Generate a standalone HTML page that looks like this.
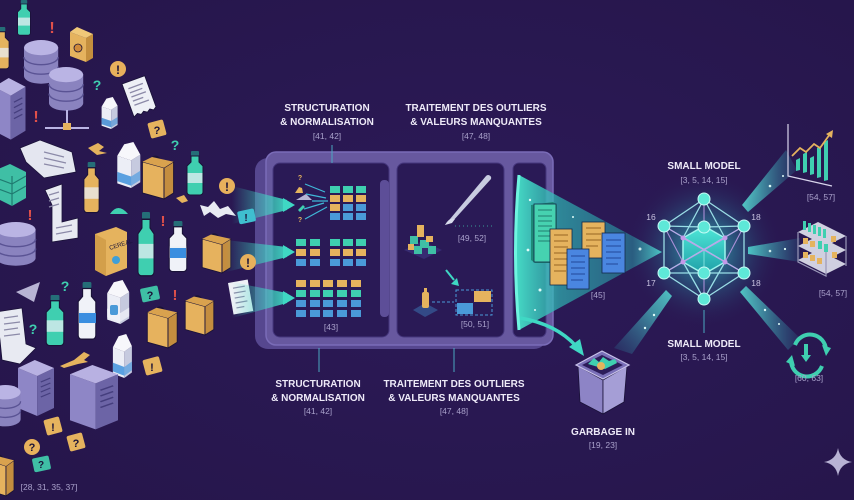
<!DOCTYPE html>
<html><head><meta charset="utf-8">
<style>
html,body{margin:0;padding:0;background:#29184f;}
body{width:854px;height:500px;overflow:hidden;}
svg{display:block;}
.t{font-family:"Liberation Sans",sans-serif;font-weight:bold;fill:#eeeaf8;font-size:10px;text-anchor:middle;}
.r{font-family:"Liberation Sans",sans-serif;fill:#aaa2cc;font-size:8.5px;text-anchor:middle;}
.q{font-family:"Liberation Sans",sans-serif;font-weight:bold;text-anchor:middle;}
</style></head><body>
<svg width="854" height="500" viewBox="0 0 854 500" xmlns="http://www.w3.org/2000/svg">
<defs>
<radialGradient id="bgg" cx="0.55" cy="0.5" r="0.7"><stop offset="0" stop-color="#2c1a58"/><stop offset="1" stop-color="#26164b"/></radialGradient>
<radialGradient id="glow" cx="0.5" cy="0.5" r="0.5"><stop offset="0" stop-color="#3ee0d0" stop-opacity=".75"/><stop offset=".45" stop-color="#2aa8b8" stop-opacity=".35"/><stop offset="1" stop-color="#2a1a56" stop-opacity="0"/></radialGradient>
<linearGradient id="funnel" x1="0" y1="0" x2="1" y2="0"><stop offset="0" stop-color="#48e6cc" stop-opacity=".95"/><stop offset=".3" stop-color="#2fb6b4" stop-opacity=".7"/><stop offset=".8" stop-color="#2a9aa8" stop-opacity=".55"/><stop offset="1" stop-color="#5ff0e0" stop-opacity=".9"/></linearGradient>
<linearGradient id="beamL" x1="0" y1="0" x2="1" y2="0"><stop offset="0" stop-color="#3fd8c4" stop-opacity="0"/><stop offset="1" stop-color="#3fd8c4" stop-opacity=".95"/></linearGradient>
<linearGradient id="beamR" x1="0" y1="0" x2="1" y2="0"><stop offset="0" stop-color="#5ff0e0" stop-opacity=".9"/><stop offset="1" stop-color="#2a8aa8" stop-opacity=".15"/></linearGradient>
<linearGradient id="beamD" x1="1" y1="0" x2="0" y2="1"><stop offset="0" stop-color="#5ff0e0" stop-opacity=".9"/><stop offset="1" stop-color="#2a8aa8" stop-opacity=".15"/></linearGradient>
<linearGradient id="cube" x1="0" y1="0" x2="0" y2="1"><stop offset="0" stop-color="#4fe8d8"/><stop offset="1" stop-color="#1f9fa8"/></linearGradient>

<g id="bottle"><rect x="6" y="0" width="8" height="5" rx="1" fill="#256e78"/><path d="M6 5h8v6l4 4v26a3 3 0 0 1-3 3H5a3 3 0 0 1-3-3V15l4-4z" fill="currentColor" stroke="#1a1238" stroke-width="1"/><rect x="2.5" y="22" width="15" height="10" fill="#e8eef4" opacity=".75"/></g>
<g id="carton"><polygon points="2,12 14,16 14,40 2,36" fill="#eceef6"/><polygon points="14,16 22,11 22,35 14,40" fill="#c6cadf"/><polygon points="2,12 8,2 16,0 22,11 14,16" fill="#f7f7fb"/><polygon points="2,26 14,30 14,38 2,34" fill="currentColor"/><polygon points="14,30 22,25 22,33 14,38" fill="currentColor" opacity=".75"/></g>
<g id="bag"><path d="M8 12 C8 2 18 2 18 13" fill="none" stroke="#1a1238" stroke-width="1.5"/><polygon points="2,9 20,14 20,40 2,35" fill="#e6b25e" stroke="#1a1238" stroke-width=".8"/><polygon points="20,14 28,9 28,35 20,40" fill="#c48d3f" stroke="#1a1238" stroke-width=".8"/><polygon points="2,9 10,5 28,9 20,14" fill="#d9a24e"/></g>
<g id="db"><rect x="0" y="8" width="36" height="30" fill="#8a83bf"/><ellipse cx="18" cy="38" rx="18" ry="8" fill="#8a83bf"/><path d="M0 18a18 8 0 0 0 36 0M0 28a18 8 0 0 0 36 0" fill="none" stroke="#5a5394" stroke-width="1.5"/><ellipse cx="18" cy="8" rx="18" ry="8" fill="#bab4e4"/></g>
<g id="server"><polygon points="0,8 16,16 16,56 0,48" fill="#8e86c6"/><polygon points="16,16 30,8 30,48 16,56" fill="#6c64a6"/><polygon points="0,8 14,0 30,8 16,16" fill="#b8b1e2"/><path d="M19 22l8-4M19 27l8-4M19 32l8-4M19 37l8-4" stroke="#453e7e" stroke-width="1.2"/></g>
<g id="rcpt"><path d="M0 0h22v30l-3 2-3-2-3 2-3-2-3 2-3-2-4 2z" fill="#eef0f6" stroke="#1a1238" stroke-width=".8"/><path d="M4 6h14M4 10h12M4 14h14M4 18h10M4 22h14" stroke="#8c8aa8" stroke-width="1.2"/></g>
</defs>

<rect width="854" height="500" fill="url(#bgg)"/>

<!-- ================= LEFT ICON CLOUD ================= -->
<use href="#bottle" transform="translate(16,0) scale(.8)" style="color:#3fcfb0"/>
<text x="52" y="33" class="q" font-size="16" fill="#e0504a">!</text>
<polygon points="70,32 86,38 86,62 70,56" fill="#e5b35e"/><polygon points="86,38 93,34 93,58 86,62" fill="#c48f3e"/><polygon points="70,32 77,27 93,34 86,38" fill="#f0c878"/><circle cx="78" cy="48" r="4" fill="#d08a3a" stroke="#1a1238" stroke-width=".8"/>
<use href="#bottle" transform="translate(-8,27) scale(.95)" style="color:#e5b35e"/>
<use href="#db" transform="translate(24,40) scale(.95)"/>
<use href="#db" transform="translate(49,67) scale(.95)"/>
<path d="M67 110v18M45 128h44" stroke="#bab4e4" stroke-width="2"/><rect x="63" y="123" width="8" height="7" fill="#e5b35e"/>
<use href="#server" transform="translate(-6,78) scale(1.05,1.1)"/>
<text x="97" y="90" class="q" font-size="14" fill="#3fcfb0">?</text>
<circle cx="118" cy="69" r="8" fill="#e7b05c"/><text x="118" y="74" class="q" font-size="12" fill="#1a1238">!</text>
<use href="#rcpt" transform="translate(122,84) rotate(-20) scale(1.1)"/>
<text x="36" y="122" class="q" font-size="16" fill="#e0504a">!</text>
<use href="#carton" transform="translate(100,97) scale(.8)" style="color:#5a9ad8"/>
<rect x="149" y="121" width="16" height="16" rx="2" fill="#e5b35e" transform="rotate(-15 157 129)"/><text x="157" y="134" class="q" font-size="11" fill="#1a1238">?</text>
<text x="175" y="150" class="q" font-size="14" fill="#3fcfb0">?</text>
<path d="M20 148 L40 140 L72 152 L76 172 L44 178 L26 162Z" fill="#e4e6f0" stroke="#1a1238" stroke-width=".8"/><path d="M44 152l20 5M44 158l22 5M44 164l20 4" stroke="#8c8aa8" stroke-width="1.2"/>
<path d="M88 148 l10-5 6 4 -5 4 8 2 -10 2z" fill="#e5b35e"/>
<use href="#carton" transform="translate(115,142) scale(1.15)" style="color:#5aa0e0"/>
<use href="#bag" transform="translate(140,151) scale(1.2)"/>
<use href="#bottle" transform="translate(185,151) scale(1.0)" style="color:#3fcfb0"/>
<polygon points="-4,170 10,164 26,172 26,198 12,206 -4,198" fill="#3fbfa5"/><path d="M12 176v30M-4 178l16 6 14-8M-4 188l16 6 14-8" stroke="#1f7a70" stroke-width="1.2" fill="none"/>
<use href="#bottle" transform="translate(82,162) scale(.95,1.15)" style="color:#e5b35e"/>
<path d="M45 190 L62 184 L62 222 L78 218 L78 238 L52 242 L52 205 Z" fill="#e8eaf2" stroke="#1a1238" stroke-width=".8"/><path d="M49 195l10-3M49 201l10-3M49 207l10-3M56 228l16-3M56 234l16-3" stroke="#8c8aa8" stroke-width="1.2"/>
<path d="M110 214 q8-12 18 0z" fill="#3fcfb0"/>
<text x="30" y="220" class="q" font-size="15" fill="#e0504a">!</text>
<text x="163" y="226" class="q" font-size="15" fill="#e0504a">!</text>
<use href="#db" transform="translate(-4,222) scale(1.1,.95)"/>
<polygon points="95,234 116,227 127,232 127,268 106,276 95,270" fill="#e5b35e"/><polygon points="95,234 106,240 106,276 95,270" fill="#d39f4a"/><text x="110" y="250" font-family="Liberation Sans" font-size="6" fill="#1a1238" transform="rotate(-18 110 250)">CEREAL</text><circle cx="116" cy="260" r="4" fill="#3f9fd8"/>
<use href="#bottle" transform="translate(136,212) scale(1.0,1.45)" style="color:#3fcfb0"/>
<use href="#bottle" transform="translate(167,221) scale(1.1,1.15)" style="color:#f0f2f8"/><rect x="170" y="248" width="16" height="10" fill="#3a8ee0"/>
<use href="#bag" transform="translate(200,229) scale(1.1)"/>
<circle cx="227" cy="186" r="8" fill="#e7b05c"/><text x="227" y="191" class="q" font-size="12" fill="#1a1238">!</text>
<path d="M200 205 l8 2 6-6 6 8 8-3 8 10 -10-2 -8 4 -8-6 -6 4z" fill="#e8eaf2"/>
<path d="M176 198 l8 -3 4 6 -6 2z" fill="#e5b35e"/>
<polygon points="16,292 40,282 34,302" fill="#b8b4d4"/>
<text x="65" y="291" class="q" font-size="14" fill="#3fcfb0">?</text>
<text x="33" y="334" class="q" font-size="14" fill="#3fcfb0">?</text>
<use href="#bottle" transform="translate(44,295) scale(1.1,1.15)" style="color:#3fcfb0"/>
<use href="#bottle" transform="translate(76,282) scale(1.1,1.3)" style="color:#f0f2f8"/><rect x="79" y="313" width="17" height="10" fill="#3a8ee0"/>
<use href="#carton" transform="translate(105,280) scale(1.1)" style="color:#f0f2f8"/><rect x="110" y="305" width="8" height="10" rx="2" fill="#4a9ad8"/>
<rect x="141" y="287" width="18" height="14" rx="2" fill="#3fbfa5" transform="rotate(-12 150 294)"/><text x="150" y="299" class="q" font-size="11" fill="#1a1238">?</text>
<text x="175" y="300" class="q" font-size="15" fill="#e0504a">!</text>
<use href="#bag" transform="translate(145,302) scale(1.15)"/>
<use href="#bag" transform="translate(183,291) scale(1.1)"/>
<g transform="translate(228,283) rotate(-10)"><rect x="0" y="0" width="20" height="32" fill="#eef0f6"/><path d="M4 6h12M4 11h12M4 16h10M4 21h12M4 26h8" stroke="#8c8aa8" stroke-width="1.2"/></g>
<path d="M-4 312 L22 308 L26 344 L36 348 L20 364 L2 360 L0 340Z" fill="#e8eaf2" stroke="#1a1238" stroke-width=".8"/><path d="M4 318l14-2M4 324l16-2M4 330l14-2M4 336l16-2" stroke="#8c8aa8" stroke-width="1.2"/>
<path d="M60 366 l14-6 10-8 6 3 -6 5 4 2 -10 2 -14 4z" fill="#e5b35e"/>
<use href="#carton" transform="translate(111,334) scale(.95,1.1)" style="color:#5aa0e0"/>
<rect x="144" y="358" width="17" height="16" rx="2" fill="#e5b35e" transform="rotate(-15 152 366)"/><text x="152" y="371" class="q" font-size="11" fill="#1a1238">!</text>
<use href="#server" transform="translate(18,360) scale(1.2,1.0)"/>
<use href="#server" transform="translate(70,365) scale(1.6,1.15)"/>
<use href="#db" transform="translate(-10,385) scale(.85,.9)"/>
<rect x="45" y="418" width="16" height="16" rx="2" fill="#e5b35e" transform="rotate(-15 53 426)"/><text x="53" y="431" class="q" font-size="11" fill="#1a1238">!</text>
<circle cx="32" cy="447" r="8" fill="#e7b05c"/><text x="32" y="451" class="q" font-size="11" fill="#1a1238">?</text>
<rect x="68" y="434" width="16" height="16" rx="2" fill="#e5b35e" transform="rotate(-15 76 442)"/><text x="76" y="447" class="q" font-size="11" fill="#1a1238">?</text>
<rect x="33" y="457" width="17" height="14" rx="2" fill="#3fbfa5" transform="rotate(-12 41 464)"/><text x="41" y="468" class="q" font-size="10" fill="#1a1238">?</text>
<use href="#bag" transform="translate(-14,450) scale(1.0,1.15)"/>
<text x="49" y="490" class="r">[28, 31, 35, 37]</text>

<!-- ================= PANEL ================= -->
<rect x="255" y="158" width="292" height="191" rx="13" fill="#56478f"/>
<rect x="266" y="152" width="287" height="193" rx="10" fill="#67589f" stroke="#7a6cb8" stroke-width="1.5"/>
<rect x="273" y="163" width="116" height="174" rx="7" fill="#2a1a56" stroke="#46377e"/>
<rect x="380" y="180" width="9" height="137" rx="4" fill="#5d4e98"/>
<rect x="397" y="163" width="107" height="174" rx="7" fill="#2a1a56" stroke="#46377e"/>
<rect x="513" y="163" width="33" height="174" rx="6" fill="#2a1a56" stroke="#46377e"/>

<!-- beams into panel (over frame) -->
<polygon points="232,186 287,200 287,210 232,224" fill="url(#beamL)"/>
<polygon points="226,240 287,247 287,257 226,272" fill="url(#beamL)"/>
<polygon points="232,282 287,293 287,303 232,318" fill="url(#beamL)"/>
<rect x="238" y="210" width="17" height="13" rx="2" fill="#3fbfcf" transform="rotate(-12 246 216)"/><text x="246" y="221" class="q" font-size="10" fill="#1a1238">!</text>
<circle cx="248" cy="262" r="8" fill="#e7b05c"/><text x="248" y="267" class="q" font-size="12" fill="#1a1238">!</text>

<!-- arrow heads -->
<polygon points="283,198 295,205 283,212" fill="#3fd8c4"/>
<polygon points="283,245 295,252 283,259" fill="#3fd8c4"/>
<polygon points="283,291 295,298 283,305" fill="#3fd8c4"/>

<!-- panel1 grid1 -->
<g>
<text x="300" y="180" class="q" font-size="7" fill="#e5b35e">?</text>
<path d="M295 193 l4-6 3 1 1 5z" fill="#e5b35e"/><polygon points="296,200 306,194 312,200" fill="#b8b4d4"/>
<path d="M298 210 l5-5 2 2-5 5z" fill="#3fcfb0"/>
<text x="300" y="222" class="q" font-size="7" fill="#e5b35e">?</text>
<path d="M305 184l20 8M306 194l20 4M312 201l16 0M304 209l20-6M305 219l22-12" stroke="#3fb8d8" stroke-width="1.2"/>
<g fill="#3fcfb0"><rect x="330" y="186" width="10" height="7"/><rect x="343" y="186" width="10" height="7"/><rect x="356" y="186" width="10" height="7"/></g>
<g fill="#e5b35e"><rect x="330" y="195" width="10" height="7"/><rect x="343" y="195" width="10" height="7"/><rect x="356" y="195" width="10" height="7"/><rect x="330" y="204" width="10" height="7"/></g>
<g fill="#4a9ad8"><rect x="343" y="204" width="10" height="7"/><rect x="356" y="204" width="10" height="7"/><rect x="330" y="213" width="10" height="7"/><rect x="343" y="213" width="10" height="7"/><rect x="356" y="213" width="10" height="7"/></g>
</g>
<!-- grid2 -->
<g>
<g fill="#3fcfb0"><rect x="296" y="239" width="10" height="7"/><rect x="310" y="239" width="10" height="7"/><rect x="330" y="239" width="10" height="7"/><rect x="343" y="239" width="10" height="7"/><rect x="356" y="239" width="10" height="7"/></g>
<g fill="#e5b35e"><rect x="296" y="249" width="10" height="7"/><rect x="310" y="249" width="10" height="7"/><rect x="330" y="249" width="10" height="7"/><rect x="343" y="249" width="10" height="7"/><rect x="356" y="249" width="10" height="7"/></g>
<g fill="#4a9ad8"><rect x="296" y="259" width="10" height="7"/><rect x="310" y="259" width="10" height="7"/><rect x="330" y="259" width="10" height="7"/><rect x="343" y="259" width="10" height="7"/><rect x="356" y="259" width="10" height="7"/></g>
</g>
<!-- grid3 -->
<g>
<g fill="#e5b35e"><rect x="296" y="280" width="10" height="7"/><rect x="310" y="280" width="10" height="7"/><rect x="323" y="280" width="10" height="7"/><rect x="337" y="280" width="10" height="7"/><rect x="351" y="280" width="10" height="7"/></g>
<g fill="#3fcfb0"><rect x="296" y="290" width="10" height="7"/><rect x="310" y="290" width="10" height="7"/><rect x="323" y="290" width="10" height="7"/><rect x="337" y="290" width="10" height="7"/><rect x="351" y="290" width="10" height="7"/></g>
<g fill="#4a9ad8"><rect x="296" y="300" width="10" height="7"/><rect x="310" y="300" width="10" height="7"/><rect x="323" y="300" width="10" height="7"/><rect x="337" y="300" width="10" height="7"/><rect x="351" y="300" width="10" height="7"/><rect x="296" y="310" width="10" height="7"/><rect x="310" y="310" width="10" height="7"/><rect x="323" y="310" width="10" height="7"/><rect x="337" y="310" width="10" height="7"/><rect x="351" y="310" width="10" height="7"/></g>
</g>
<text x="331" y="330" class="r">[43]</text>

<!-- panel2 -->
<path d="M445 225 L486 176 a3 3 0 0 1 5 3 L452 222 Z" fill="#c8cce0"/><path d="M445 225 q4-8 10-6 l-3 4z" fill="#d8dcec"/>
<path d="M455 226 h38" stroke="#3fcfb0" stroke-width="1" stroke-dasharray="1 3" opacity=".7"/>
<text x="472" y="241" class="r">[49, 52]</text>
<polygon points="404,250 422,241 442,250 424,259" fill="#3a2f78" opacity=".8"/>
<g fill="#3fbfa5"><rect x="410" y="236" width="8" height="8"/><rect x="420" y="240" width="9" height="8"/><rect x="428" y="246" width="8" height="8"/><rect x="414" y="246" width="8" height="8"/></g>
<g fill="#e5b35e"><rect x="417" y="225" width="7" height="12"/><rect x="426" y="236" width="7" height="6"/><rect x="408" y="244" width="6" height="6"/></g>
<path d="M446 270 l8 10" stroke="#3fd8c4" stroke-width="2"/><polygon points="451,284 459,286 457,278" fill="#3fd8c4"/>
<polygon points="413,310 425,303 438,310 425,317" fill="#3a6aa8" opacity=".6"/>
<rect x="422" y="292" width="7" height="16" rx="2" fill="#e5b35e"/><rect x="424" y="288" width="3" height="5" fill="#e5b35e"/>
<path d="M432 302 h22" stroke="#4a9ad8" stroke-width="1" stroke-dasharray="3 2"/>
<rect x="456" y="290" width="36" height="25" fill="none" stroke="#4a9ad8" stroke-dasharray="3 2"/>
<rect x="474" y="291" width="17" height="11" fill="#e5b35e"/><rect x="457" y="303" width="16" height="11" fill="#4a9ad8"/>
<text x="475" y="327" class="r">[50, 51]</text>

<!-- funnel -->
<path d="M519 175 Q512 252 519 330 L662 252 Z" fill="url(#funnel)"/>
<path d="M519 175 Q512 252 519 330" stroke="#6ff5e0" stroke-width="3" fill="none"/>
<g fill="#dffcf8"><circle cx="530" cy="200" r="1.2"/><circle cx="528" cy="250" r="1.4"/><circle cx="540" cy="290" r="1.5"/><circle cx="573" cy="217" r="1"/><circle cx="640" cy="249" r="1.5"/><circle cx="535" cy="310" r="1"/></g>
<g>
<polygon points="531,205 553,202 557,205 557,263 535,263 531,260" fill="#1e8a78"/><rect x="534" y="204" width="22" height="58" fill="#46d2b0" stroke="#13284a" stroke-width=".8"/><path d="M538 210h14M538 216h14M538 221h14M538 226h14M538 231h14M538 236h14M538 241h12" stroke="#2a8e7c" stroke-width="1.2"/>
<rect x="582" y="222" width="23" height="36" fill="#e5b35e" stroke="#13284a" stroke-width=".8"/><path d="M586 228h15M586 234h15M586 240h15M586 246h12" stroke="#a8762e" stroke-width="1.2"/>
<rect x="550" y="229" width="22" height="56" fill="#e5b35e" stroke="#13284a" stroke-width=".8"/><path d="M554 235h14M554 241h14M554 247h14M554 253h14M554 259h14M554 265h14M554 271h12" stroke="#a8762e" stroke-width="1.2"/>
<rect x="567" y="249" width="22" height="40" fill="#4a86e0" stroke="#13284a" stroke-width=".8"/><path d="M571 256h14M571 262h14M571 268h14M571 274h14M571 280h12" stroke="#2a55a8" stroke-width="1.2"/>
<rect x="602" y="233" width="23" height="40" fill="#4a86e0" stroke="#13284a" stroke-width=".8"/><path d="M606 240h15M606 246h15M606 252h15M606 258h15M606 264h12" stroke="#2a55a8" stroke-width="1.2"/>
</g>
<text x="598" y="298" class="r">[45]</text>

<!-- curved arrow to trash -->
<path d="M520 318 Q556 324 576 346" stroke="#3fd8c4" stroke-width="3.5" fill="none"/>
<polygon points="569,347 584,356 580,339" fill="#3fd8c4"/>

<!-- beams from network -->
<polygon points="742,205 748,212 797,170 786,150" fill="url(#beamR)"/>
<polygon points="748,247 748,254 800,262 800,238" fill="url(#beamR)"/>
<polygon points="740,292 746,286 800,338 788,350" fill="url(#beamR)"/>
<polygon points="666,290 672,296 632,354 614,348" fill="url(#beamD)"/>
<g fill="#dffcf8"><circle cx="770" cy="186" r="1.3"/><circle cx="783" cy="176" r="1"/><circle cx="770" cy="251" r="1.3"/><circle cx="785" cy="249" r="1.1"/><circle cx="765" cy="310" r="1.2"/><circle cx="779" cy="324" r="1"/><circle cx="654" cy="315" r="1.2"/><circle cx="645" cy="328" r="1.2"/></g>

<!-- network -->
<circle cx="704" cy="250" r="78" fill="url(#glow)"/>
<polygon points="704,226 725,238 725,262 704,274 683,262 683,238" fill="url(#cube)" stroke="#9ff5ee" stroke-width="1.5"/>
<path d="M704,250 L725,238 M704,250 L683,238 M704,250 V274" stroke="#9ff5ee" stroke-width="1" opacity=".7"/>
<g stroke="#a6eef2" stroke-width="1.3" fill="none" opacity=".9">
<polygon points="704,199 744,226 744,273 704,299 664,273 664,226"/>
<path d="M704,199 L683,238 M704,199 L725,238 M664,226 L744,273 M744,226 L664,273 M664,226 L704,227 L744,226 M664,273 L704,273 L744,273 M704,299 L683,262 M704,299 L725,262"/>
</g>
<g stroke="#c09ae8" stroke-width="1.1" fill="none" opacity=".85">
<path d="M664,226 L725,262 M744,226 L683,262 M664,273 L725,238 M744,273 L683,238 M704,199 V227 M704,273 V299 M664,226 L683,262 M744,226 L725,262"/>
</g>
<g fill="#c49ae8"><circle cx="683" cy="238" r="2.5"/><circle cx="725" cy="238" r="2.5"/><circle cx="683" cy="262" r="2.5"/><circle cx="725" cy="262" r="2.5"/></g>
<g fill="#5ee8d8" stroke="#c8fbf6" stroke-width="1"><circle cx="704" cy="199" r="6"/><circle cx="664" cy="226" r="6"/><circle cx="744" cy="226" r="6"/><circle cx="704" cy="227" r="6"/><circle cx="704" cy="273" r="6"/><circle cx="664" cy="273" r="6"/><circle cx="744" cy="273" r="6"/><circle cx="704" cy="299" r="6"/></g>
<text x="651" y="220" font-family="Liberation Sans" font-size="8.5" fill="#c8c2e0" text-anchor="middle">16</text>
<text x="756" y="220" font-family="Liberation Sans" font-size="8.5" fill="#c8c2e0" text-anchor="middle">18</text>
<text x="651" y="286" font-family="Liberation Sans" font-size="8.5" fill="#c8c2e0" text-anchor="middle">17</text>
<text x="756" y="286" font-family="Liberation Sans" font-size="8.5" fill="#c8c2e0" text-anchor="middle">18</text>
<text x="704" y="169" class="t" font-size="10.5">SMALL MODEL</text>
<text x="704" y="183" class="r">[3, 5, 14, 15]</text>
<path d="M704 310 V333" stroke="#4aa8c0" stroke-width="1"/>
<text x="704" y="347" class="t" font-size="10.5">SMALL MODEL</text>
<text x="704" y="360" class="r">[3, 5, 14, 15]</text>

<!-- right icons: chart -->
<path d="M788 124 V176 L832 186" stroke="#d8d4ec" stroke-width="1.2" fill="none"/>
<g fill="#3fcfb0"><polygon points="796,160 800,158 800,170 796,171"/><polygon points="803,154 807,152 807,172 803,173"/><polygon points="810,158 814,156 814,174 810,175"/><polygon points="817,148 821,146 821,177 817,178"/><polygon points="824,142 828,140 828,180 824,181"/></g>
<path d="M792 156 L800 148 L806 152 L814 144 L820 148 L830 134" stroke="#e5b35e" stroke-width="1.8" fill="none"/><polygon points="826,134 833,130 832,138" fill="#e5b35e"/>
<text x="821" y="200" class="r">[54, 57]</text>
<!-- shelf -->
<g>
<polygon points="798,232 826,246 846,236 818,222" fill="#d0d0e0"/>
<polygon points="798,246 826,260 846,250 818,236" fill="#d0d0e0"/>
<polygon points="798,260 826,274 846,264 818,250" fill="#d0d0e0"/>
<path d="M798 232 V262 L826 276 V246" stroke="#9a98b8" stroke-width="1.2" fill="none"/><path d="M846 236 V266" stroke="#9a98b8" stroke-width="1.2"/>
<g fill="#3fcfb0"><rect x="803" y="221" width="3" height="9"/><rect x="808" y="223" width="3" height="9"/><rect x="813" y="225" width="3" height="9"/><rect x="818" y="227" width="3" height="9"/><rect x="823" y="229" width="3" height="9"/><rect x="818" y="241" width="4" height="8"/><rect x="824" y="244" width="4" height="8"/></g>
<g fill="#e5b35e"><rect x="803" y="238" width="5" height="6"/><rect x="810" y="241" width="5" height="6"/><rect x="831" y="236" width="5" height="6"/><rect x="803" y="252" width="5" height="6"/><rect x="810" y="255" width="5" height="6"/><rect x="817" y="258" width="5" height="6"/><rect x="832" y="252" width="5" height="6"/></g>
</g>
<text x="833" y="296" class="r">[54, 57]</text>
<!-- recycle -->
<path d="M795 345 A16 16 0 0 1 826 350" stroke="#3fcfb0" stroke-width="4" fill="none"/><polygon points="822,345 831,348 826,356" fill="#3fcfb0"/>
<path d="M822 366 A16 16 0 0 1 791 360" stroke="#3fcfb0" stroke-width="4" fill="none"/><polygon points="795,366 786,362 792,355" fill="#3fcfb0"/>
<path d="M806 344 V356" stroke="#3fcfb0" stroke-width="4"/><polygon points="801,355 811,355 806,362" fill="#3fcfb0"/>
<text x="809" y="381" class="r">[60, 63]</text>
<!-- sparkle -->
<path d="M838 448 Q840 460 852 462 Q840 464 838 476 Q836 464 824 462 Q836 460 838 448Z" fill="#b8b2d4"/>

<!-- trash -->
<polygon points="578,366 580,402 603,414 603,380" fill="#8d84c6" stroke="#1a1238" stroke-width=".8"/>
<polygon points="603,380 603,414 624,402 627,366" fill="#a59ed6" stroke="#1a1238" stroke-width=".8"/>
<polygon points="576,365 602,351 629,365 603,379" fill="#7a70b8" stroke="#c8c2ea" stroke-width="1.2"/>
<polygon points="582,365 602,355 623,365 603,375" fill="#2c1c5a"/>
<path d="M588 364 l6-6 5 4 4-5 6 4 6-2 2 4-12 6z" fill="#3fcfb0"/><circle cx="601" cy="366" r="4" fill="#e5b35e"/>
<text x="603" y="435" class="t" font-size="10.5">GARBAGE IN</text>
<text x="603" y="448" class="r">[19, 23]</text>

<!-- top labels -->
<text x="327" y="111" class="t">STRUCTURATION</text>
<text x="327" y="125" class="t">&amp; NORMALISATION</text>
<text x="327" y="139" class="r">[41, 42]</text>
<path d="M332 145 V163" stroke="#4aa8c0" stroke-width="1"/>
<text x="476" y="111" class="t">TRAITEMENT DES OUTLIERS</text>
<text x="476" y="125" class="t">&amp; VALEURS MANQUANTES</text>
<text x="476" y="139" class="r">[47, 48]</text>

<!-- bottom labels -->
<path d="M319 348 V372" stroke="#4aa8c0" stroke-width="1"/>
<path d="M454 348 V372" stroke="#4aa8c0" stroke-width="1"/>
<text x="318" y="387" class="t">STRUCTURATION</text>
<text x="318" y="401" class="t">&amp; NORMALISATION</text>
<text x="318" y="414" class="r">[41, 42]</text>
<text x="454" y="387" class="t">TRAITEMENT DES OUTLIERS</text>
<text x="454" y="401" class="t">&amp; VALEURS MANQUANTES</text>
<text x="454" y="414" class="r">[47, 48]</text>
</svg>
</body></html>
